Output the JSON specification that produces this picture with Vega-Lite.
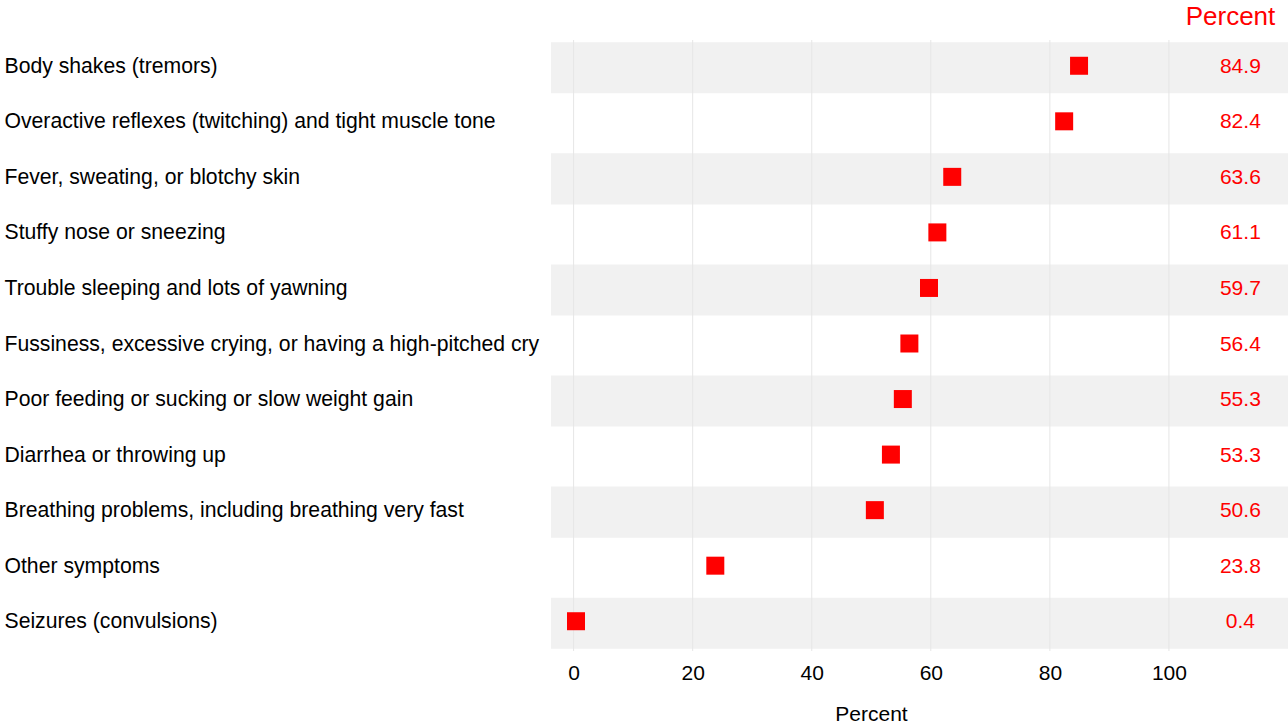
{
  "$schema": "https://vega.github.io/schema/vega-lite/v6.json",
  "autosize": {"type": "none"},
  "padding": {"left": 551, "top": 40, "right": 0, "bottom": 75},
  "width": 737,
  "height": 611,
  "background": "white",
  "config": {
    "view": {"stroke": null},
    "font": "Liberation Sans",
    "text": {"font": "Liberation Sans"}
  },
  "data": {
    "values": [
      {"symptom": "Body shakes (tremors)", "pct": 84.9},
      {"symptom": "Overactive reflexes (twitching) and tight muscle tone", "pct": 82.4},
      {"symptom": "Fever, sweating, or blotchy skin", "pct": 63.6},
      {"symptom": "Stuffy nose or sneezing", "pct": 61.1},
      {"symptom": "Trouble sleeping and lots of yawning", "pct": 59.7},
      {"symptom": "Fussiness, excessive crying, or having a high-pitched cry", "pct": 56.4},
      {"symptom": "Poor feeding or sucking or slow weight gain", "pct": 55.3},
      {"symptom": "Diarrhea or throwing up", "pct": 53.3},
      {"symptom": "Breathing problems, including breathing very fast", "pct": 50.6},
      {"symptom": "Other symptoms", "pct": 23.8},
      {"symptom": "Seizures (convulsions)", "pct": 0.4}
    ]
  },
  "encoding": {
    "y": {
      "field": "symptom",
      "type": "nominal",
      "sort": null,
      "scale": {
        "domain": [
          "Body shakes (tremors)",
          "Overactive reflexes (twitching) and tight muscle tone",
          "Fever, sweating, or blotchy skin",
          "Stuffy nose or sneezing",
          "Trouble sleeping and lots of yawning",
          "Fussiness, excessive crying, or having a high-pitched cry",
          "Poor feeding or sucking or slow weight gain",
          "Diarrhea or throwing up",
          "Breathing problems, including breathing very fast",
          "Other symptoms",
          "Seizures (convulsions)"
        ],
        "paddingInner": 0.08,
        "paddingOuter": 0.04
      },
      "axis": {
        "title": "Percent",
        "titleColor": "#ff0000",
        "titleFontSize": 26,
        "titleFontWeight": "normal",
        "titleFont": "Liberation Sans",
        "titleAngle": 0,
        "titleAlign": "center",
        "titleBaseline": "alphabetic",
        "titleX": 679,
        "titleY": -16,
        "ticks": false,
        "domain": false,
        "labelAlign": "left",
        "labelPadding": 547,
        "labelFontSize": 21.2,
        "labelColor": "#000000",
        "labelFont": "Liberation Sans",
        "labelLimit": 0,
        "labelOffset": -1
      }
    }
  },
  "layer": [
    {
      "transform": [
        {"window": [{"op": "row_number", "as": "rowIndex"}]},
        {"filter": "datum.rowIndex % 2 == 1"}
      ],
      "mark": {"type": "rect", "color": "#f1f1f1"},
      "encoding": {
        "x": {"datum": -3.8, "type": "quantitative", "scale": {"domain": [-3.8, 120], "nice": false, "zero": false}},
        "x2": {"datum": 120}
      }
    },
    {
      "data": {"values": [{"g": 0}, {"g": 20}, {"g": 40}, {"g": 60}, {"g": 80}, {"g": 100}]},
      "mark": {"type": "rule", "color": "#e6e6e6", "strokeWidth": 1},
      "encoding": {
        "x": {"field": "g", "type": "quantitative"},
        "y": null
      }
    },
    {
      "mark": {"type": "point", "shape": "square", "filled": true, "size": 324, "color": "#ff0000", "opacity": 1, "yOffset": -2},
      "encoding": {
        "x": {
          "field": "pct",
          "type": "quantitative",
          "axis": {
            "values": [0, 20, 40, 60, 80, 100],
            "grid": false,
            "ticks": false,
            "domain": false,
            "labelFontSize": 21,
            "labelColor": "#000000",
            "labelFont": "Liberation Sans",
            "labelPadding": 11,
            "title": "Percent",
            "titleFontSize": 21,
            "titleFontWeight": "normal",
            "titleColor": "#000000",
            "titleFont": "Liberation Sans",
            "titlePadding": 20,
            "titleX": 320
          }
        }
      }
    },
    {
      "mark": {"type": "text", "color": "#ff0000", "fontSize": 21, "align": "center", "baseline": "middle", "font": "Liberation Sans", "dy": -1},
      "encoding": {
        "x": {"datum": 112, "type": "quantitative"},
        "text": {"field": "pct", "type": "quantitative", "format": ".1f"}
      }
    }
  ]
}
